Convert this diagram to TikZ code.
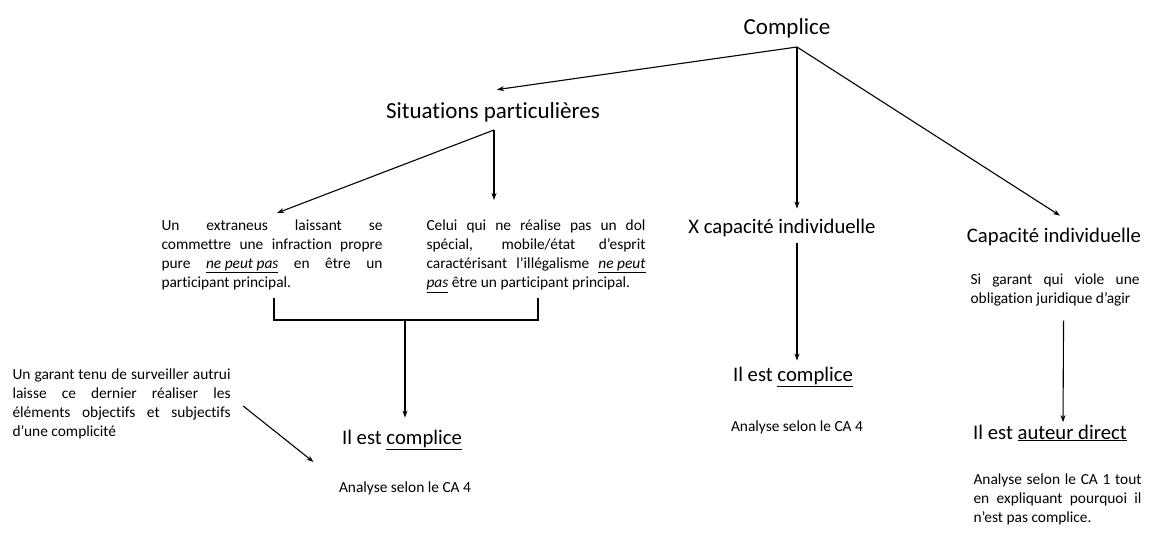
\documentclass[tikz,border=0pt]{standalone}
\usepackage{fontspec}
\setmainfont{Carlito}[Ligatures=NoCommon]
\usetikzlibrary{arrows.meta}
\usetikzlibrary{positioning}
\usetikzlibrary{calc}
\hyphenpenalty=10000
\exhyphenpenalty=10000

\begin{document}
\begin{tikzpicture}[
	x=1pt, y=-1pt,
	line width=1.1pt,
	>={Stealth[length=7pt,width=5pt]},
	head/.style={font=\fontsize{23}{28}\selectfont, inner sep=0pt},
	big/.style={font=\fontsize{20.7}{25}\selectfont, inner sep=0pt},
	small/.style={font=\fontsize{15.4}{19.2}\selectfont, inner sep=0pt},
	para/.style={font=\fontsize{15.4}{19.2}\selectfont, text width=#1, align=justify, inner sep=0pt},
	]
	\useasboundingbox (0,0) rectangle (1154,536);

	\node[head] (comp) at (787,28) {Complice};
	\coordinate (fan) at (797,47);

	\node[head] (sit) at (493,112) {Situations particulières};
	\node[big] (xcap) at (782,228) {X capacité individuelle};
	\node[big] (cap) at (1054,237) {Capacité individuelle};

	\draw[->] (fan) -- ([xshift=4pt, yshift=12pt]sit.north);
	\draw[->] (fan) -- ([yshift=10pt]fan |- xcap.north);
	\draw[->] (fan) -- ([xshift=6pt, yshift=12pt]cap.north);

	% situations particulieres
	\coordinate (sitb) at (494,130);
	\node[para=221pt, anchor=north] (extr) at (272,219)
		{Un extraneus laissant se\linebreak commettre une infraction propre\linebreak pure \underline{\textit{ne peut pas}} en être un\linebreak participant principal.};
	\node[para=219pt, anchor=north] (celui) at (536,219)
		{Celui qui ne réalise pas un dol\linebreak spécial, mobile/état d’esprit\linebreak caractérisant l’illégalisme \underline{\textit{ne peut}}\linebreak \underline{\textit{pas}} être un participant principal.};

	\draw[->] (sitb) -- ([xshift=5pt, yshift=6pt]extr.north);
	\draw[->] (sitb) -- ([yshift=19pt]sitb |- celui.north);

	\coordinate (brkl) at (274,298);
	\coordinate (brkr) at (538,298);
	\coordinate (brk) at (405,320);
	\draw (brkl) |- (brk) -| (brkr);

	\node[big] (ilc1) at (402,440) {Il est \underline{complice}};
	\node[small] (ana1) at (405,488) {Analyse selon le CA 4};
	\draw[->] (brk) -- ([yshift=12pt]brk |- ilc1.north);

	\node[para=218pt, anchor=north west] (garant) at (12,368)
		{Un garant tenu de surveiller autrui\linebreak laisse ce dernier réaliser les\linebreak éléments objectifs et subjectifs\linebreak d’une complicité};
	\draw[->] ([xshift=12pt, yshift=-2pt]garant.east) -- ([xshift=-28pt, yshift=-22pt]ilc1.west);

	% X capacite individuelle
	\node[big] (ilc2) at (793,377) {Il est \underline{complice}};
	\node[small] (ana2) at (797,427) {Analyse selon le CA 4};
	\draw[->] ([yshift=-6pt]fan |- xcap.south) -- ([yshift=6pt]fan |- ilc2.north);

	% capacite individuelle
	\node[para=169pt, anchor=north west] (si) at (970,273)
		{Si garant qui viole une\linebreak obligation juridique d’agir};
	\node[big] (ad) at (1050,433) {Il est \underline{auteur direct}};
	\node[para=168pt, anchor=north west] (ana3) at (973,473)
		{Analyse selon le CA 1 tout\linebreak en expliquant pourquoi il\linebreak n’est pas complice.};
	\draw[->] ([xshift=8.5pt, yshift=-14pt]si.south) -- ([xshift=13pt, yshift=2pt]ad.north);

\end{tikzpicture}
\end{document}
